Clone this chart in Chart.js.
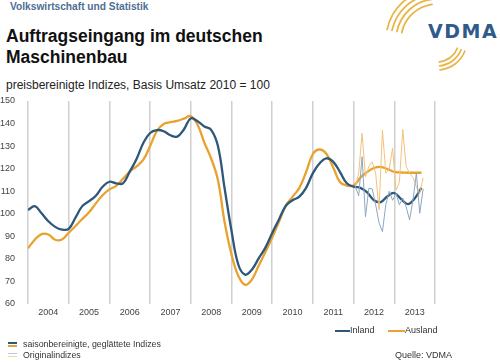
<!DOCTYPE html>
<html lang="de">
<head>
<meta charset="utf-8">
<title>Auftragseingang im deutschen Maschinenbau</title>
<script src="https://cdn.jsdelivr.net/npm/chart.js@4/dist/chart.umd.min.js"></script>
<style>
    html, body { margin: 0; padding: 0; background: #fff; }
    body { width: 500px; height: 362px; position: relative; overflow: hidden; font-family: 'Liberation Sans', Arial, sans-serif; }
    #chartBox { position: absolute; left: 0; top: 0; width: 500px; height: 362px; }
    .txt { position: absolute; white-space: nowrap; }
    #rubrik { left: 10px; top: 1px; font-size: 10.2px; font-weight: bold; color: #4d6f94; }
    #titel { left: 6px; top: 26px; font-size: 17.5px; font-weight: bold; line-height: 21px; color: #111; }
    #untertitel { left: 6px; top: 78px; font-size: 12px; color: #222; }
    #logoText { left: 428px; top: 20px; font-family: 'DejaVu Sans', sans-serif; font-size: 19px; font-weight: bold; color: #2e5b8c; letter-spacing: 1.5px; }
    .leg { font-size: 9px; color: #333; }
    .strich { position: absolute; height: 2px; }
</style>
</head>
<body>
<svg style="position:absolute;left:0;top:0" width="500" height="80">
    <g fill="none" stroke="#e8b548" stroke-width="1.8" stroke-linecap="round" id="boegen"></g>
</svg>
<div class="txt" id="rubrik">Volkswirtschaft und Statistik</div>
<div class="txt" id="titel">Auftragseingang im deutschen<br>Maschinenbau</div>
<div class="txt" id="untertitel">preisbereinigte Indizes, Basis Umsatz 2010 = 100</div>
<div class="txt" id="logoText">VDMA</div>

<div id="chartBox"><canvas id="auftragChart" width="500" height="362"></canvas></div>

<!-- Legende rechts -->
<div class="strich" style="left:335px;top:330px;width:15px;background:#2e5779"></div>
<div class="txt leg" style="left:350px;top:325px">Inland</div>
<div class="strich" style="left:388px;top:330px;width:17px;background:#e9a22f"></div>
<div class="txt leg" style="left:405px;top:325px">Ausland</div>

<!-- Legende links -->
<div class="strich" style="left:8px;top:342px;width:9px;background:#2e5779"></div>
<div class="strich" style="left:8px;top:345px;width:9px;background:#e9a22f"></div>
<div class="txt leg" style="left:23px;top:339px;font-size:8.8px">saisonbereinigte, geglättete Indizes</div>
<div class="strich" style="left:8px;top:353px;width:9px;height:1px;background:#b9c9d8"></div>
<div class="strich" style="left:8px;top:356px;width:9px;height:1px;background:#f3d6a8"></div>
<div class="txt leg" style="left:23px;top:350px;font-size:8.8px">Originalindizes</div>
<div class="txt leg" style="left:395px;top:350px">Quelle: VDMA</div>

<script>
// Jahresbeschriftung
const jahre = ['2004', '2005', '2006', '2007', '2008', '2009', '2010', '2011', '2012', '2013'];

// geglaettete Reihen: alle zwei Monate ab Januar 2004
const zeitGeglaettet = [];
for (let k = 0; k <= 58; k++) zeitGeglaettet.push(2004 + k / 6);

const inlandGeglaettet = [
    101.7, 103.4, 100.2, 96.7, 94.2, 93.0, 93.3, 98.3, 103.4, 105.6,
    108.0, 112.0, 114.2, 113.5, 113.5, 118.7, 124.3, 131.4, 135.8, 137.1,
    136.6, 134.8, 134.2, 137.5, 142.3, 141.0, 138.7, 137.2, 130.0, 111.0,
    92.5, 77.5, 73.0, 75.2, 80.2, 85.0, 91.5, 97.5, 103.5, 106.0,
    107.6, 111.5, 118.0, 122.4, 124.6, 123.0, 118.5, 113.5, 112.0, 111.5,
    109.5, 106.0, 105.2, 107.8, 109.2, 106.5, 104.3, 106.8, 111.5
];

const auslandGeglaettet = [
    84.7, 88.5, 91.0, 90.8, 88.5, 88.6, 91.6, 94.6, 97.7, 100.7,
    104.6, 108.2, 110.8, 112.4, 115.5, 118.7, 121.0, 124.0, 130.0, 136.7,
    139.8, 140.6, 141.2, 142.2, 143.3, 139.5, 131.5, 124.5, 115.0, 96.0,
    82.0, 72.5, 68.5, 70.8, 77.0, 83.0, 89.5, 96.5, 103.5, 107.5,
    111.5, 118.5, 126.5, 128.5, 126.5, 120.5, 114.0, 112.5, 112.5, 116.0,
    118.5, 120.3, 120.8, 119.8, 118.6, 118.3, 118.2, 118.2, 118.2
];

// Originalindizes: monatlich Januar 2012 bis September 2013
const zeitOriginal = [];
for (let m = 0; m < 21; m++) zeitOriginal.push(2012 + (m + 0.5) / 12);

const inlandOriginal = [
    112, 108, 125.3, 98.7, 111.3, 111, 104, 96, 92.1, 104,
    110, 106, 109, 104, 107, 103, 97.3, 106, 118, 100.2, 111
];

const auslandOriginal = [
    112, 118, 135.7, 116.4, 121, 123, 118, 101.7, 137.1, 118,
    120, 129, 110.5, 114, 137.4, 121, 118, 116, 112, 109, 116
];

function punkte(zeit, werte) {
    return werte.map((w, i) => ({ x: zeit[i], y: w }));
}

// Logo-Boegen
const boegen = document.getElementById('boegen');
function bogen(cx, cy, r, a1, a2) {
    const p1 = [cx + r * Math.cos(a1 * Math.PI / 180), cy + r * Math.sin(a1 * Math.PI / 180)];
    const p2 = [cx + r * Math.cos(a2 * Math.PI / 180), cy + r * Math.sin(a2 * Math.PI / 180)];
    const p = document.createElementNS('http://www.w3.org/2000/svg', 'path');
    p.setAttribute('d', `M${p1[0]},${p1[1]} A${r},${r} 0 0 1 ${p2[0]},${p2[1]}`);
    boegen.appendChild(p);
}
[36, 41, 46, 51].forEach(r => bogen(437, 40, r, 192, 262));
[22, 26, 30].forEach(r => bogen(437, 40, r, 22, 84));

Chart.defaults.font.family = "'Liberation Sans', Arial, sans-serif";
Chart.defaults.font.size = 9;
Chart.defaults.color = '#555';

const ctx = document.getElementById('auftragChart').getContext('2d');
const auftragChart = new Chart(ctx, {
    type: 'line',
    data: {
        datasets: [
            {
                label: 'Inland Original',
                data: punkte(zeitOriginal, inlandOriginal),
                borderColor: '#8ea7c0',
                borderWidth: 1,
                tension: 0
            },
            {
                label: 'Ausland Original',
                data: punkte(zeitOriginal, auslandOriginal),
                borderColor: '#f2c27c',
                borderWidth: 1,
                tension: 0
            },
            {
                label: 'Inland',
                data: punkte(zeitGeglaettet, inlandGeglaettet),
                borderColor: '#2e5779',
                borderWidth: 2.3,
                tension: 0.4
            },
            {
                label: 'Ausland',
                data: punkte(zeitGeglaettet, auslandGeglaettet),
                borderColor: '#e9a22f',
                borderWidth: 2.3,
                tension: 0.4
            }
        ]
    },
    options: {
        responsive: false,
        animation: false,
        elements: { point: { radius: 0 } },
        layout: { padding: { left: 0, top: 101, right: 65, bottom: 38 } },
        plugins: {
            legend: { display: false },
            tooltip: { enabled: false }
        },
        scales: {
            x: {
                type: 'linear',
                min: 2004,
                max: 2014,
                afterBuildTicks: (axis) => {
                    const t = [];
                    for (let v = 2004; v <= 2014; v += 0.5) t.push({ value: v });
                    axis.ticks = t;
                },
                afterFit: (scale) => { scale.height = 20; },
                ticks: {
                    autoSkip: false,
                    maxRotation: 0,
                    padding: 3,
                    color: '#444',
                    callback: (value) => value % 1 === 0.5 ? jahre[Math.floor(value) - 2004] : ''
                },
                grid: {
                    drawTicks: false,
                    lineWidth: 1.5,
                    color: (c) => c.tick && c.tick.value % 1 === 0 ? '#d0d0d0' : 'rgba(0,0,0,0)'
                },
                border: { display: false }
            },
            y: {
                min: 60,
                max: 150,
                afterFit: (scale) => { scale.width = 28; },
                ticks: { stepSize: 10, padding: 5, color: '#444' },
                grid: { display: false },
                border: { display: false }
            }
        }
    }
});
</script>
</body>
</html>
